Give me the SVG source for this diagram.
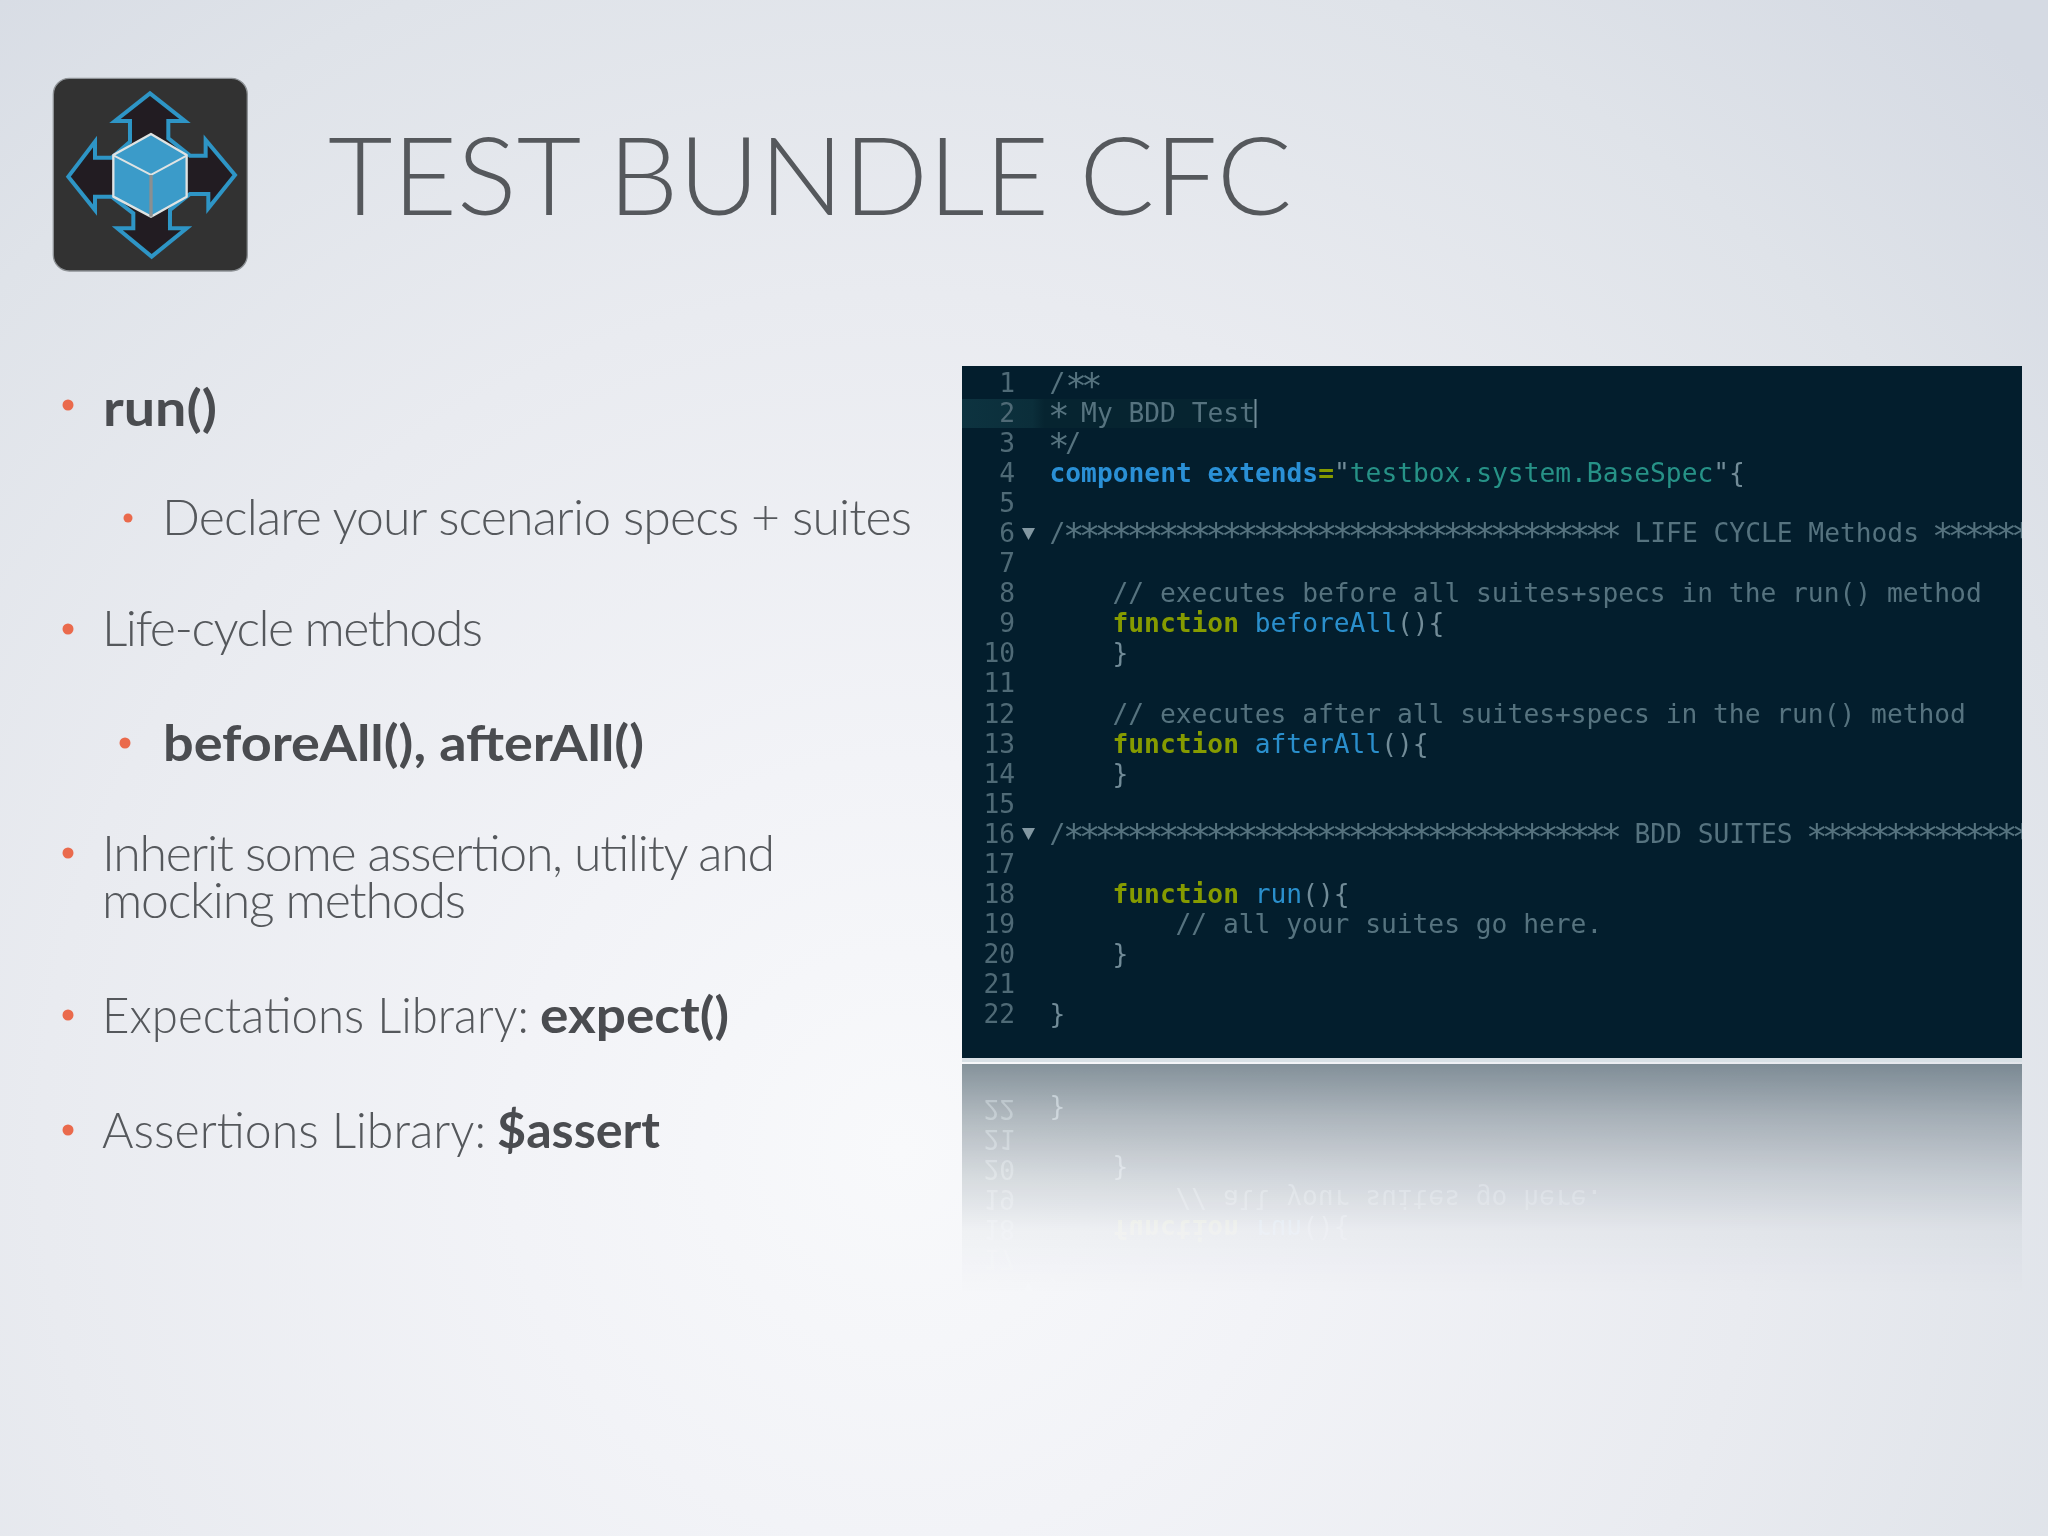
<svg xmlns="http://www.w3.org/2000/svg" xmlns:xlink="http://www.w3.org/1999/xlink" width="2048" height="1536" viewBox="0 0 2048 1536">
<style>
.t{font-family:"Lato","Noto Sans",sans-serif;font-weight:300;fill:#55585c}
.b{font-weight:700;fill:#4a4c50}
.body{font-size:50px}
.m{font-family:"DejaVu Sans Mono","Liberation Mono",monospace;font-size:26.25px;fill:#56737f;white-space:pre}
.n{text-anchor:end;fill:#506a76}
.s{font-size:36px;letter-spacing:-5.87px}
.kw{fill:#2a90d6;font-weight:700}
.fn{fill:#869b00;font-weight:700}
.nm{fill:#2a8fcc}
.st{fill:#279287}
.p{fill:#728c98}
.dot{fill:#ea6a4c}
</style>
<defs>
<radialGradient id="bg" gradientUnits="userSpaceOnUse" cx="900" cy="1150" r="1560">
<stop offset="0" stop-color="#f8f9fb"/>
<stop offset="0.25" stop-color="#f2f3f7"/>
<stop offset="0.55" stop-color="#e9ebf0"/>
<stop offset="0.8" stop-color="#dfe3e9"/>
<stop offset="1" stop-color="#d5dae3"/>
</radialGradient>
<linearGradient id="fade" gradientUnits="userSpaceOnUse" x1="0" y1="1062" x2="0" y2="1295">
<stop offset="0" stop-color="#fff" stop-opacity="0.47"/>
<stop offset="0.23" stop-color="#fff" stop-opacity="0.29"/>
<stop offset="0.48" stop-color="#fff" stop-opacity="0.14"/>
<stop offset="0.72" stop-color="#fff" stop-opacity="0.03"/>
<stop offset="1" stop-color="#fff" stop-opacity="0"/>
</linearGradient>
<linearGradient id="band" x1="0" y1="0" x2="1" y2="0">
<stop offset="0" stop-color="#0d3340"/>
<stop offset="0.24" stop-color="#0b2e3a"/>
<stop offset="0.28" stop-color="#062430"/>
<stop offset="1" stop-color="#062430"/>
</linearGradient>
<mask id="fadeMask" maskUnits="userSpaceOnUse" x="962" y="1062" width="1060" height="240">
<rect x="962" y="1062" width="1060" height="240" fill="url(#fade)"/>
</mask>
<clipPath id="codeClip"><rect x="962" y="366" width="1060" height="692"/></clipPath>
<filter id="soft" x="-2%" y="-2%" width="104%" height="104%"><feGaussianBlur stdDeviation="0.7"/></filter>
<filter id="softLogo" x="-2%" y="-2%" width="104%" height="104%"><feGaussianBlur stdDeviation="2"/></filter>
<g id="codePanel" clip-path="url(#codeClip)">
<rect x="962" y="366" width="1060" height="692" fill="#031e2d"/>
<rect x="962" y="399" width="294" height="29" fill="url(#band)"/>
<rect x="1254.500" y="399" width="2" height="29" fill="#728c98"/>
<g filter="url(#soft)">
<path d="M1022 528h13l-6.500 12z" fill="#8398a2"/>
<path d="M1022 828h13l-6.500 12z" fill="#8398a2"/>
<text class="m n" x="1015" y="392">1</text>
<text class="m n" x="1015" y="422">2</text>
<text class="m n" x="1015" y="452">3</text>
<text class="m n" x="1015" y="482">4</text>
<text class="m n" x="1015" y="512">5</text>
<text class="m n" x="1015" y="542">6</text>
<text class="m n" x="1015" y="572">7</text>
<text class="m n" x="1015" y="602">8</text>
<text class="m n" x="1015" y="632">9</text>
<text class="m n" x="1015" y="662">10</text>
<text class="m n" x="1015" y="692">11</text>
<text class="m n" x="1015" y="722.500">12</text>
<text class="m n" x="1015" y="752.500">13</text>
<text class="m n" x="1015" y="782.500">14</text>
<text class="m n" x="1015" y="812.500">15</text>
<text class="m n" x="1015" y="842.500">16</text>
<text class="m n" x="1015" y="872.500">17</text>
<text class="m n" x="1015" y="902.500">18</text>
<text class="m n" x="1015" y="932.500">19</text>
<text class="m n" x="1015" y="962.500">20</text>
<text class="m n" x="1015" y="992.500">21</text>
<text class="m n" x="1015" y="1022.500">22</text>
<text class="m" x="1049.500" y="392">/<tspan class="s" dy="6">**</tspan></text>
<text class="m s" x="1048" y="428">*</text>
<text class="m" x="1065.300" y="422"> My BDD Test</text>
<text class="m s" x="1048" y="458">*</text>
<text class="m" x="1065.300" y="452">/</text>
<text class="m" x="1049.500" y="482"><tspan class="kw">component extends</tspan><tspan class="fn">=</tspan><tspan class="p">"</tspan><tspan class="st">testbox.system.BaseSpec</tspan><tspan class="p">"{</tspan></text>
<text class="m" x="1049.500" y="542">/</text>
<text class="m s" x="1063" y="548">***********************************</text>
<text class="m" x="1634.500" y="542">LIFE CYCLE Methods</text>
<text class="m s" x="1932" y="548">******</text>
<text class="m" x="1112.500" y="602">// executes before all suites+specs in the run() method</text>
<text class="m" x="1112.500" y="632"><tspan class="fn">function</tspan> <tspan class="nm">beforeAll</tspan><tspan class="p">(){</tspan></text>
<text class="m p" x="1112.500" y="662">}</text>
<text class="m" x="1112.500" y="722.500">// executes after all suites+specs in the run() method</text>
<text class="m" x="1112.500" y="752.500"><tspan class="fn">function</tspan> <tspan class="nm">afterAll</tspan><tspan class="p">(){</tspan></text>
<text class="m p" x="1112.500" y="782.500">}</text>
<text class="m" x="1049.500" y="842.500">/</text>
<text class="m s" x="1063" y="848.500">***********************************</text>
<text class="m" x="1634.500" y="842.500">BDD SUITES</text>
<text class="m s" x="1806" y="848.500">**************</text>
<text class="m" x="1112.500" y="902.500"><tspan class="fn">function</tspan> <tspan class="nm">run</tspan><tspan class="p">(){</tspan></text>
<text class="m" x="1175.500" y="932.500">// all your suites go here.</text>
<text class="m p" x="1112.500" y="962.500">}</text>
<text class="m p" x="1049.500" y="1022.500">}</text>
</g>
</g>
</defs>
<rect id="background" width="2048" height="1536" fill="url(#bg)"/>
<g id="logo" transform="translate(40 60) scale(0.3333)">
<g filter="url(#softLogo)">
<rect x="40" y="55" width="582" height="578" rx="48" fill="#333333" stroke="#8e9296" stroke-width="4"/>
<path d="M330 100L435 183H385V235L450 287H497V240L585 345L505 445V402H450L390 450V505H440L335 590L232 505H280V460L215 410H165V450L85 350L165 245V293H215L270 245V183H225Z" fill="#231f20" stroke="#2d95c6" stroke-width="12" stroke-linejoin="miter"/>
<path d="M333 222L440 285V410L333 470L220 410V285Z" fill="#3a9bc9" stroke="#dfe3e3" stroke-width="7" stroke-linejoin="round"/>
<path d="M222 287L333 345L440 287" fill="none" stroke="#dfe3e3" stroke-width="6"/>
<path d="M333 345V470" fill="none" stroke="#8b8f90" stroke-width="10"/>
</g>
</g>
<text id="title" class="t" x="328" y="215" font-size="108" textLength="964" lengthAdjust="spacingAndGlyphs">TEST BUNDLE CFC</text>
<g id="bullets">
<circle class="dot" cx="68" cy="405" r="5.500"/>
<circle class="dot" cx="128" cy="518" r="4.500"/>
<circle class="dot" cx="68" cy="629" r="5.500"/>
<circle class="dot" cx="125" cy="743" r="5.500"/>
<circle class="dot" cx="68" cy="853" r="5.500"/>
<circle class="dot" cx="68" cy="1015" r="5.500"/>
<circle class="dot" cx="68" cy="1130" r="5.500"/>
<text class="t b body" x="103" y="426" textLength="114" lengthAdjust="spacingAndGlyphs">run()</text>
<text class="t body" x="162" y="535" textLength="750">Declare your scenario specs + suites</text>
<text class="t body" x="102" y="646" textLength="381">Life-cycle methods</text>
<text class="t b body" x="163" y="761" textLength="481" lengthAdjust="spacingAndGlyphs">beforeAll(), afterAll()</text>
<text class="t body" x="102" y="871" textLength="673">Inherit some assertion, utility and</text>
<text class="t body" x="102" y="918" textLength="364">mocking methods</text>
<text class="t body" x="102" y="1033" textLength="427" lengthAdjust="spacingAndGlyphs">Expectations Library:</text>
<text class="t b body" x="540" y="1033" textLength="189" lengthAdjust="spacingAndGlyphs">expect()</text>
<text class="t body" x="102" y="1148" textLength="384" lengthAdjust="spacingAndGlyphs">Assertions Library:</text>
<text class="t b body" x="497" y="1148" textLength="163" lengthAdjust="spacingAndGlyphs">$assert</text>
</g>
<g id="screenshot">
<use href="#codePanel" xlink:href="#codePanel"/>
<rect x="962" y="1058" width="1060" height="4" fill="#d9e1e6"/>
</g>
<g id="reflection" mask="url(#fadeMask)">
<use href="#codePanel" xlink:href="#codePanel" transform="matrix(1 0 0 -1 0 2122)"/>
</g>
</svg>
